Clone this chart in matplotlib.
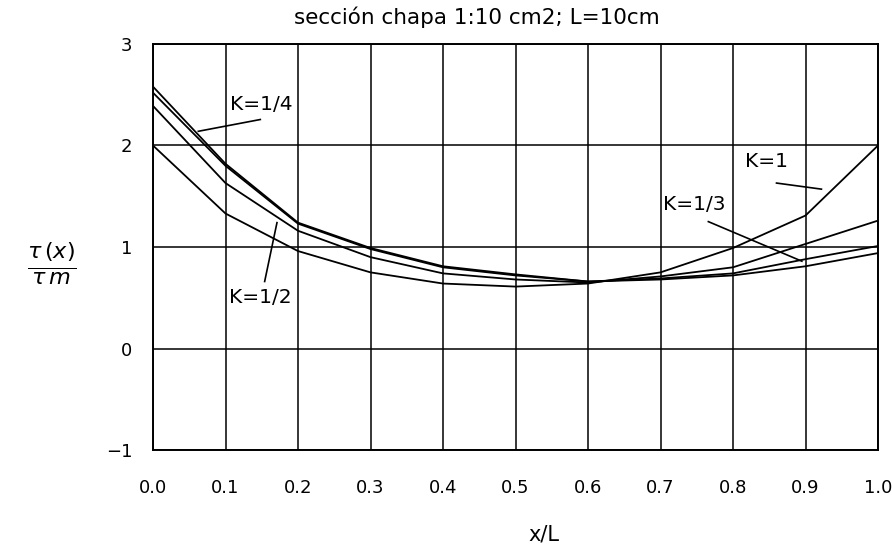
import matplotlib
matplotlib.use("Agg")
import matplotlib.pyplot as plt

x = [0.0, 0.1, 0.2, 0.3, 0.4, 0.5, 0.6, 0.7, 0.8, 0.9, 1.0]
k1 = [2.00, 1.33, 0.96, 0.75, 0.64, 0.61, 0.64, 0.75, 0.99, 1.31, 2.00]
k1_2 = [2.39, 1.63, 1.16, 0.90, 0.74, 0.68, 0.65, 0.71, 0.80, 1.03, 1.26]
k1_3 = [2.52, 1.80, 1.23, 0.98, 0.80, 0.72, 0.66, 0.69, 0.74, 0.88, 1.01]
k1_4 = [2.58, 1.82, 1.24, 0.99, 0.81, 0.73, 0.66, 0.68, 0.72, 0.81, 0.94]

xticks = [0.0, 0.1, 0.2, 0.3, 0.4, 0.5, 0.6, 0.7, 0.8, 0.9, 1.0]
yticks = [-1, 0, 1, 2, 3]

fig = plt.figure(figsize=(8.92, 5.44), dpi=100)
ax = fig.add_axes([153/892, 94/544, 725/892, 406/544])

for ys in (k1, k1_2, k1_3, k1_4):
    ax.plot(x, ys, color="black", linewidth=1.3)

ax.set_xlim(0, 1)
ax.set_ylim(-1, 3)
ax.set_xticks(xticks)
ax.set_xticklabels([f"{v:.1f}" for v in xticks])
ax.set_yticks(yticks)
ax.set_yticklabels(["\u22121", "0", "1", "2", "3"])
ax.grid(True, color="black", linewidth=1.1)
ax.tick_params(length=0, labelsize=13)
ax.tick_params(axis="x", pad=21)
ax.tick_params(axis="y", pad=15)
for s in ax.spines.values():
    s.set_linewidth(1.4)

# annotations
ann = [
    ("K=1/4", (0.106, 2.40), (0.148, 2.256), (0.0625, 2.14)),
    ("K=1/2", (0.105, 0.50), (0.154, 0.66), (0.171, 1.24)),
    ("K=1", (0.817, 1.84), (0.860, 1.63), (0.922, 1.57)),
    ("K=1/3", (0.703, 1.42), (0.766, 1.25), (0.895, 0.86)),
]
for label, tpos, p0, p1 in ann:
    ax.text(tpos[0], tpos[1], label, fontsize=14.5, va="center", ha="left")
    ax.plot([p0[0], p1[0]], [p0[1], p1[1]], color="black", linewidth=1.2)

fig.text(477/892, 1 - 17/544, "sección chapa 1:10 cm2; L=10cm", ha="center", va="center", fontsize=15.5)
fig.text(544/892, 1 - 534/544, "x/L", ha="center", va="center", fontsize=15)
fig.text(52/892, 1 - 264/544, r"$\frac{\tau\,(x)}{\tau\,m}$", ha="center", va="center", fontsize=23)

fig.savefig("out.png", dpi=100)
